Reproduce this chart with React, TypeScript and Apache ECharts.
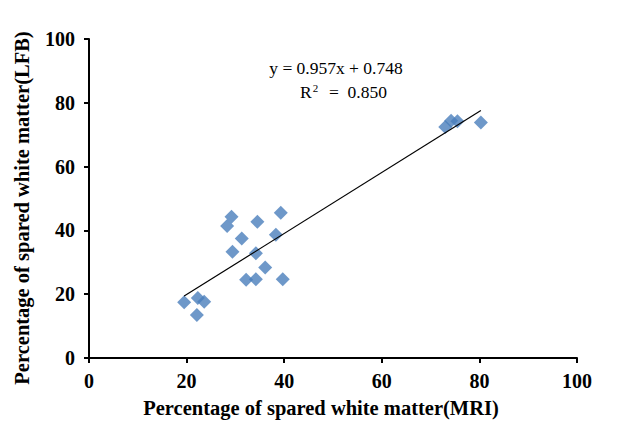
import React, { useEffect, useRef } from "react";
import * as echarts from "echarts";

const mriValues = [19.5, 22.1, 22.3, 23.6, 28.3, 29.2, 29.4, 31.3, 32.2, 34.2, 34.5, 34.2, 36.1, 38.3, 39.3, 39.7, 73.0, 74.2, 75.5, 80.3];
const lfbValues = [17.5, 13.5, 18.8, 17.6, 41.4, 44.3, 33.3, 37.5, 24.5, 32.8, 42.7, 24.7, 28.4, 38.6, 45.5, 24.7, 72.4, 74.4, 74.2, 73.8];
const trendSlope = 0.957;
const trendIntercept = 0.748;
const trendRange = [19.5, 80.3];
const xTicks = [0, 20, 40, 60, 80, 100];
const yTicks = [0, 20, 40, 60, 80, 100];
const equationText = "y = 0.957x + 0.748";
const r2Value = "0.850";

export default function App() {
  const ref = useRef<HTMLDivElement>(null);
  useEffect(() => {
    if (!ref.current) return;
    const chart = echarts.init(ref.current, null, { renderer: "svg" });
    const serif = "'Liberation Serif', 'DejaVu Serif', serif";
    const points = mriValues.map((x, i) => [x, lfbValues[i]]);
    const trend = trendRange.map((x) => [x, trendSlope * x + trendIntercept]);
    chart.setOption({
      animation: false,
      backgroundColor: "#ffffff",
      grid: { left: 89, right: 44, top: 39, bottom: 76 },
      xAxis: {
        type: "value",
        min: xTicks[0],
        max: xTicks[xTicks.length - 1],
        interval: 20,
        splitLine: { show: false },
        axisLine: { show: true, onZero: false, lineStyle: { color: "#000", width: 2 } },
        axisTick: { show: true, length: 5, lineStyle: { color: "#000", width: 2 } },
        axisLabel: { color: "#000", fontFamily: serif, fontWeight: "bold", fontSize: 20, margin: 13 },
      },
      yAxis: {
        type: "value",
        min: yTicks[0],
        max: yTicks[yTicks.length - 1],
        interval: 20,
        splitLine: { show: false },
        axisLine: { show: true, onZero: false, lineStyle: { color: "#000", width: 2 } },
        axisTick: { show: true, length: 5, lineStyle: { color: "#000", width: 2 } },
        axisLabel: { color: "#000", fontFamily: serif, fontWeight: "bold", fontSize: 20, margin: 14 },
      },
      series: [
        {
          type: "line",
          data: trend,
          symbol: "none",
          lineStyle: { color: "#000", width: 1.2 },
          z: 3,
        },
        {
          type: "scatter",
          data: points,
          symbol: "diamond",
          symbolSize: 14,
          itemStyle: { color: "#4A7EBB" },
          z: 2,
        },
      ],
      graphic: [
        {
          type: "text",
          x: 321,
          y: 408,
          style: {
            text: "Percentage of spared white matter(MRI)",
            fontFamily: serif,
            fontWeight: "bold",
            fontSize: 20.5,
            fill: "#000",
            textAlign: "center",
            textVerticalAlign: "middle",
          },
        },
        {
          type: "text",
          x: 22,
          y: 208,
          rotation: Math.PI / 2,
          style: {
            text: "Percentage of spared white matter(LFB)",
            fontFamily: serif,
            fontWeight: "bold",
            fontSize: 20.5,
            fill: "#000",
            textAlign: "center",
            textVerticalAlign: "middle",
          },
        },
        {
          type: "text",
          x: 336,
          y: 68,
          style: {
            text: equationText,
            fontFamily: serif,
            fontSize: 17.5,
            fill: "#000",
            textAlign: "center",
            textVerticalAlign: "middle",
          },
        },
        {
          type: "text",
          x: 300,
          y: 92,
          style: {
            text: "R{sup|2}  =  " + r2Value,
            fontFamily: serif,
            fontSize: 17.5,
            fill: "#000",
            textAlign: "left",
            textVerticalAlign: "middle",
            rich: {
              sup: { fontSize: 11, verticalAlign: "top", padding: [0, 2, 8, 1], fontFamily: serif, fill: "#000" },
            },
          },
        },
      ],
    });
    return () => chart.dispose();
  }, []);
  return <div ref={ref} style={{ width: 621, height: 434, position: "absolute", left: 0, top: 0 }} />;
}
